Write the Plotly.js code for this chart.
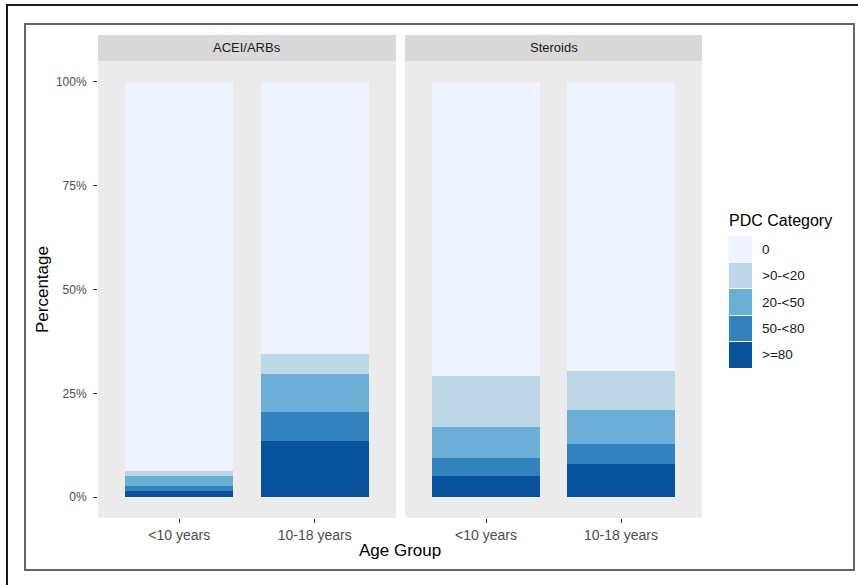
<!DOCTYPE html>
<html>
<head>
<meta charset="utf-8">
<script src="https://cdn.plot.ly/plotly-3.0.1.min.js"></script>
<style>
  html, body { margin: 0; padding: 0; background: #ffffff; }
  #wrap { position: relative; width: 858px; height: 585px; overflow: hidden; }
  #chart { position: absolute; left: 0; top: 0; width: 858px; height: 585px; }
  .frame { position: absolute; pointer-events: none; box-sizing: border-box; }
  #outer { left: 6px; top: 4px; width: 900px; height: 700px; border: 2px solid #1a1a1a; }
  #inner { left: 24px; top: 23px; width: 831px; height: 548px; border: 2px solid #666666; }
</style>
</head>
<body>
<div id="wrap">
  <div id="chart"></div>
  <div id="outer" class="frame"></div>
  <div id="inner" class="frame"></div>
</div>
<script>
// ---------------- data ----------------
const ageGroups = ['<10 years', '10-18 years'];
const drugs = ['ACEI/ARBs', 'Steroids'];
// PDC levels from bottom of stack to top
const pdcLevels = ['>=80', '50-<80', '20-<50', '>0-<20', '0'];
const pdcColors = ['#08519c', '#3182bd', '#6baed6', '#bdd7e7', '#eff3ff'];
// values in percent: [ACEI <10, ACEI 10-18, Steroids <10, Steroids 10-18]
const pct_ge80  = [1.5, 13.5, 5.1, 8.0];
const pct_50_80 = [1.2, 6.9, 4.3, 4.9];
const pct_20_50 = [2.4, 9.3, 7.6, 8.2];
const pct_0_20  = [1.3, 4.7, 12.3, 9.3];
const pct_0     = [93.6, 65.6, 70.7, 69.6];
const levelValues = [pct_ge80, pct_50_80, pct_20_50, pct_0_20, pct_0];
const yTicks = [0, 25, 50, 75, 100];
const yTickLabels = ['0%', '25%', '50%', '75%', '100%'];

// ---------------- geometry helpers (pixels -> paper) ----------------
const W = 858, H = 585;
const mL = 98, mR = 58, mT = 35, mB = 67;
const pw = W - mL - mR, ph = H - mT - mB;
const px = x => (x - mL) / pw;
const py = y => (H - mB - y) / ph;

const FONT = '"Liberation Sans", Arial, sans-serif';
const traces = [];
levelValues.forEach((vals, i) => {
  traces.push({
    type: 'bar', x: ageGroups, y: [vals[0], vals[1]], xaxis: 'x', yaxis: 'y',
    width: 0.8, marker: { color: pdcColors[i], line: { width: 0 } },
    name: pdcLevels[i], showlegend: false, hoverinfo: 'skip'
  });
  traces.push({
    type: 'bar', x: ageGroups, y: [vals[2], vals[3]], xaxis: 'x2', yaxis: 'y',
    width: 0.8, marker: { color: pdcColors[i], line: { width: 0 } },
    name: pdcLevels[i], showlegend: false, hoverinfo: 'skip'
  });
  // legend key
  traces.push({
    type: 'bar', x: ['key'], y: [1], xaxis: 'x3', yaxis: 'y3',
    width: 1, marker: { color: pdcColors[i], line: { width: 1, color: '#f7f7f7' } },
    showlegend: false, hoverinfo: 'skip'
  });
});

const xCommon = {
  type: 'category', range: [-0.6, 1.6], showgrid: false, zeroline: false, showline: false,
  ticks: 'outside', ticklen: 4, tickwidth: 1, tickcolor: '#333333',
  tickfont: { family: FONT, size: 14, color: '#4d4d4d' }, anchor: 'y', fixedrange: true
};

const annotations = [];
const shapes = [];
drugs.forEach((d, k) => {
  const xr = k === 0 ? 'x domain' : 'x2 domain';
  shapes.push({ type: 'rect', xref: xr, x0: 0, x1: 1, yref: 'paper', y0: py(61), y1: py(35),
    fillcolor: '#d9d9d9', line: { width: 0 }, layer: 'below' });
  annotations.push({ xref: xr, x: 0.5, yref: 'paper', y: py(48), text: d, showarrow: false,
    xanchor: 'center', yanchor: 'middle', font: { family: FONT, size: 13, color: '#1a1a1a' } });
});
pdcLevels.forEach((lv, i) => {
  annotations.push({ xref: 'x3', x: 0.5, xshift: 8, yref: 'y3', y: i + 0.5, text: lv, showarrow: false,
    xanchor: 'left', yanchor: 'middle', font: { family: FONT, size: 13.5, color: '#1a1a1a' } });
});
annotations.push({ xref: 'paper', x: px(727), yref: 'paper', y: py(221), text: 'PDC Category', showarrow: false,
  xanchor: 'left', yanchor: 'middle', font: { family: FONT, size: 16, color: '#000000' } });
annotations.push({ xref: 'paper', x: px(42), yref: 'paper', y: py(290), text: 'Percentage', showarrow: false,
  textangle: -90, xanchor: 'center', yanchor: 'middle', font: { family: FONT, size: 17, color: '#000000' } });
annotations.push({ xref: 'paper', x: px(400), yref: 'paper', y: py(550), text: 'Age Group', showarrow: false,
  xanchor: 'center', yanchor: 'middle', font: { family: FONT, size: 17, color: '#000000' } });

const layout = {
  width: W, height: H,
  margin: { l: mL, r: mR, t: mT, b: mB, pad: 0 },
  paper_bgcolor: '#ffffff', plot_bgcolor: '#ebebeb',
  barmode: 'stack', bargap: 0, showlegend: false,
  font: { family: FONT },
  xaxis: Object.assign({}, xCommon, { domain: [0, px(396)] }),
  xaxis2: Object.assign({}, xCommon, { domain: [px(405), px(702)] }),
  yaxis: {
    domain: [0, py(61)], range: [-5, 105], tickmode: 'array', tickvals: yTicks, ticktext: yTickLabels,
    showgrid: false, zeroline: false, showline: false,
    ticks: 'outside', ticklen: 4, tickwidth: 1, tickcolor: '#333333', ticklabelstandoff: 4,
    tickfont: { family: FONT, size: 12, color: '#4d4d4d' }, fixedrange: true
  },
  xaxis3: { domain: [px(728), px(752)], anchor: 'y3', range: [-0.5, 0.5], visible: false, fixedrange: true },
  yaxis3: { domain: [py(368), py(236)], anchor: 'x3', range: [0, 5], visible: false, fixedrange: true },
  shapes: shapes,
  annotations: annotations
};

Plotly.newPlot('chart', traces, layout, { staticPlot: true, displayModeBar: false });
</script>
</body>
</html>
